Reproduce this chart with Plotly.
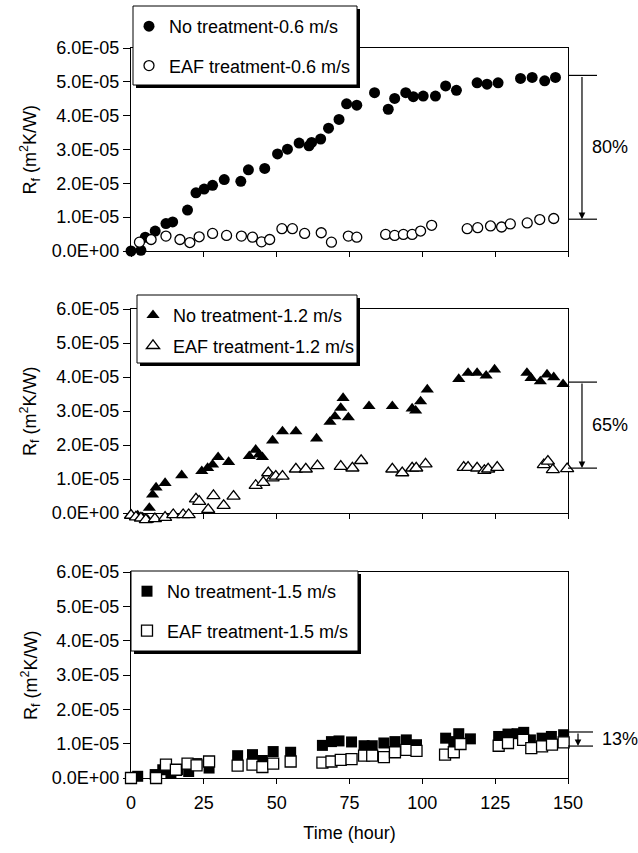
import plotly.graph_objects as go

SCALE = 1e-5  # values below are read in units of 1E-05 m2K/W

# ---- Top panel: 0.6 m/s ----
nt06_hours = [0, 3.4, 4.9, 8.3, 12, 14.3, 19.4, 22.3, 25.1, 28, 32, 37.7, 40.3, 45.9, 50.3, 53.7,
              57.7, 61.1, 62, 65.1, 67.8, 71.4, 74, 77.5, 83.6, 88.3, 90.5, 94.3, 96.9, 100.3,
              104.5, 108, 111.7, 118.8, 122.2, 126, 133.7, 137.7, 142, 145.7]
nt06_rf = [0.0, 0.02, 0.41, 0.59, 0.81, 0.86, 1.21, 1.72, 1.83, 1.94, 2.11, 2.06, 2.40, 2.44, 2.87,
           3.01, 3.19, 3.11, 3.21, 3.31, 3.63, 3.89, 4.35, 4.31, 4.68, 4.19, 4.51, 4.68, 4.56, 4.58,
           4.58, 4.88, 4.75, 4.97, 4.93, 4.97, 5.10, 5.13, 5.03, 5.13]
eaf06_hours = [2.9, 6.9, 12, 16.8, 20.2, 23.4, 28, 32.8, 37.9, 41.7, 44.8, 47.6, 51.8, 55.4, 59.6,
               65.3, 68.8, 74.6, 77.5, 87.4, 90.5, 93.5, 96.5, 99.4, 103.2, 115.4, 119, 123.4,
               127.2, 130.2, 136, 140.3, 145.1]
eaf06_rf = [0.26, 0.34, 0.44, 0.34, 0.25, 0.42, 0.52, 0.46, 0.44, 0.41, 0.27, 0.34, 0.66, 0.66, 0.52,
            0.54, 0.26, 0.44, 0.41, 0.49, 0.46, 0.49, 0.49, 0.59, 0.76, 0.66, 0.69, 0.74, 0.71,
            0.80, 0.83, 0.93, 0.96]

# ---- Middle panel: 1.2 m/s ----
nt12_hours = [0, 2.3, 4, 5.7, 6.3, 7.4, 8.6, 11.7, 17.4, 24.3, 26.3, 28, 29.9, 33.5, 40.6, 42.8, 44,
              45.1, 48.6, 52, 56.6, 63.7, 68.3, 70, 72, 72.8, 74.6, 81.7, 89.7, 96.5, 97.7, 99.4,
              101.7, 112.5, 115.7, 118.8, 121.9, 124.8, 135.9, 137.3, 140.5, 142.8, 145.1, 148.3]
nt12_rf = [-0.05, -0.07, -0.13, -0.2, 0.15, 0.54, 0.75, 0.88, 1.11, 1.23, 1.32, 1.42, 1.64, 1.50,
           1.67, 1.86, 1.72, 1.64, 2.13, 2.40, 2.40, 2.19, 2.68, 2.84, 3.09, 3.38, 2.81, 3.14, 3.14,
           3.07, 3.01, 3.28, 3.63, 3.94, 4.12, 4.12, 4.04, 4.22, 4.12, 3.97, 3.87, 4.07, 3.99, 3.79]
eaf12_hours = [0, 1.7, 3.4, 5.1, 8.2, 11.7, 14.5, 17.9, 19.8, 22.3, 23.4, 26.5, 28.3, 31.8, 35.2,
               42.8, 45.4, 47.1, 48.6, 49.7, 52, 56.6, 60, 64, 72, 76, 79, 89.7, 93.1, 96.5, 97.9,
               101.1, 114.2, 115.7, 118.8, 121.3, 122.6, 125.7, 141.7, 143.1, 144.8, 149.7]
eaf12_rf = [-0.07, -0.12, -0.15, -0.2, -0.17, -0.13, -0.05, -0.05, -0.05, 0.41, 0.34, 0.10, 0.51,
            0.22, 0.49, 0.81, 0.90, 1.18, 1.03, 1.08, 1.08, 1.29, 1.29, 1.39, 1.37, 1.32, 1.54,
            1.29, 1.18, 1.32, 1.32, 1.44, 1.34, 1.34, 1.32, 1.25, 1.29, 1.34, 1.42, 1.52, 1.27, 1.30]

# ---- Bottom panel: 1.5 m/s ----
nt15_hours = [0, 2.3, 8.3, 10.9, 13.7, 16, 19.8, 22.6, 26.8, 36.6, 41.7, 45.1, 48.8, 54.8, 65.7,
              68.8, 71.4, 75.7, 80, 82.8, 86.8, 90.6, 94.5, 98, 108, 110.8, 112.5, 116.5, 126.2,
              129.4, 132.5, 134.8, 137.1, 141.1, 144.3, 148.5]
nt15_rf = [0.0, 0.05, 0.10, 0.24, 0.15, 0.24, 0.19, 0.42, 0.29, 0.65, 0.68, 0.51, 0.77, 0.75, 0.95,
           1.06, 1.08, 1.05, 0.94, 0.94, 1.02, 1.06, 1.11, 0.97, 1.16, 1.06, 1.29, 1.14, 1.21,
           1.28, 1.29, 1.33, 1.11, 1.16, 1.21, 1.26]
eaf15_hours = [0, 8.6, 12, 15.4, 19.4, 22.5, 26.8, 36.6, 41.7, 45.1, 48.8, 54.8, 65.7, 68.8, 72,
               75.7, 80, 82.8, 86.8, 90.6, 94.5, 98, 107.8, 110.8, 113.1, 126.2, 129.4, 134.6,
               137.4, 141.1, 144.5, 148.5]
eaf15_rf = [0.0, 0.0, 0.39, 0.24, 0.42, 0.37, 0.48, 0.36, 0.39, 0.32, 0.42, 0.48, 0.45, 0.48, 0.53,
            0.55, 0.65, 0.65, 0.61, 0.75, 0.82, 0.79, 0.68, 0.75, 0.99, 0.94, 1.02, 1.11, 0.87,
            0.92, 0.97, 1.04]

# reduction brackets (upper level, lower level, label)
reduction_06 = [5.19, 0.94, "80%"]
reduction_12 = [3.85, 1.32, "65%"]
reduction_15 = [1.34, 0.93, "13%"]

x_ticks = [0, 25, 50, 75, 100, 125, 150]
y_ticks = [0, 1, 2, 3, 4, 5, 6]
y_ticktext = ["0.0E+00", "1.0E-05", "2.0E-05", "3.0E-05", "4.0E-05", "5.0E-05", "6.0E-05"]

legend_names = {
    "06": ["No treatment-0.6 m/s", "EAF treatment-0.6 m/s"],
    "12": ["No treatment-1.2 m/s", "EAF treatment-1.2 m/s"],
    "15": ["No treatment-1.5 m/s", "EAF treatment-1.5 m/s"],
}

FONT = "Arial, Liberation Sans, sans-serif"
W, H = 638, 853
ML, MR, MT, MB = 131, 70, 40, 55
PW, PH = W - ML - MR, H - MT - MB
YMAX = 6 * SCALE


def py(ypx):
    return (H - MB - ypx) / PH


def px(xpx):
    return (xpx - ML) / PW


def sc(vals):
    return [v * SCALE for v in vals]


# panel pixel extents (top, bottom) of the visible axes
panel_px = {"y3": (48, 251), "y2": (309, 513), "y": (572, 778)}
# hidden "data" y axes extend a few px below zero so points dipping below 0 stay visible
EXT = 12
data_axis = {"y3": "y4", "y2": "y5", "y": "y6"}

fig = go.Figure()

panels = [
    ("06", "x3", "y3", "legend3", "circle", 11, 10,
     nt06_hours, nt06_rf, eaf06_hours, eaf06_rf),
    ("12", "x2", "y2", "legend2", "triangle-up", 11.5, 11.5,
     nt12_hours, nt12_rf, eaf12_hours, eaf12_rf),
    ("15", "x", "y", "legend", "square", 11, 11,
     nt15_hours, nt15_rf, eaf15_hours, eaf15_rf),
]

for key, xa, ya, lg, sym, s1, s2, h1, v1, h2, v2 in panels:
    dy = data_axis[ya]
    fig.add_trace(go.Scatter(
        x=h1, y=sc(v1), mode="markers", name=legend_names[key][0],
        xaxis=xa, yaxis=dy, legend=lg, legendgroup=key + "a", cliponaxis=False,
        marker=dict(symbol=sym, size=s1, color="black", line=dict(width=0)),
    ))
    fig.add_trace(go.Scatter(
        x=h2, y=sc(v2), mode="markers", name=legend_names[key][1],
        xaxis=xa, yaxis=dy, legend=lg, legendgroup=key + "b", cliponaxis=False,
        marker=dict(symbol=sym, size=s2, color="white", line=dict(width=1.3, color="black")),
    ))

axis_common = dict(showline=True, linecolor="black", linewidth=1.4, mirror=True,
                   showgrid=False, zeroline=False, ticks="outside", tickcolor="black",
                   automargin=False)

layout = dict(
    width=W, height=H, margin=dict(l=ML, r=MR, t=MT, b=MB, autoexpand=False),
    paper_bgcolor="white", plot_bgcolor="rgba(0,0,0,0)",
    font=dict(family=FONT, size=18, color="black"),
    showlegend=True,
)

annotations = []
for xa, ya in [("x", "y"), ("x2", "y2"), ("x3", "y3")]:
    xk = "xaxis" if xa == "x" else "xaxis" + xa[1:]
    yk = "yaxis" if ya == "y" else "yaxis" + ya[1:]
    top_px, bot_px = panel_px[ya]
    layout[xk] = dict(axis_common, range=[0, 150], tickvals=x_ticks, ticklen=5,
                      anchor=ya, domain=[0, 1], showticklabels=(xa == "x"),
                      ticklabelstandoff=3, tickfont=dict(size=18, family=FONT))
    layout[yk] = dict(axis_common, range=[0, YMAX], tickvals=sc(y_ticks),
                      ticktext=y_ticktext, ticklen=7, anchor=xa,
                      domain=[py(bot_px), py(top_px)], tickfont=dict(size=18, family=FONT))
    dy = data_axis[ya]
    dk = "yaxis" + dy[1:]
    ext_frac = EXT / (bot_px - top_px)
    layout[dk] = dict(visible=False, anchor=xa, domain=[py(bot_px + EXT), py(top_px)],
                      range=[-ext_frac * YMAX, YMAX], showgrid=False, zeroline=False)
    # y axis title (rotated)
    annotations.append(dict(
        xref="paper", yref="paper", x=px(30), y=py((top_px + bot_px) / 2),
        text="R<sub>f</sub> (m<sup>2</sup>K/W)", textangle=-90, showarrow=False,
        xanchor="center", yanchor="middle", font=dict(size=18, family=FONT)))

layout["xaxis"]["title"] = dict(text="Time (hour)", font=dict(size=18, family=FONT), standoff=14)

# legends (box positions in pixels: left, top, right, bottom, row spacing)
legend_boxes = {
    "legend3": (133, 6, 357, 85, 40),
    "legend2": (137, 295, 357, 363, 31),
    "legend": (131, 571, 358, 651, 40),
}
shapes = []
for lg, (l, t, r, b, gap) in legend_boxes.items():
    layout[lg] = dict(xref="container", yref="container", x=(l - 4) / W, y=1 - (t + 2) / H,
                      xanchor="left", yanchor="top", bgcolor="rgba(0,0,0,0)", borderwidth=0,
                      font=dict(size=18, family=FONT), tracegroupgap=gap - 27)
    shapes.append(dict(type="rect", xref="paper", yref="paper", layer="above",
                       x0=px(l + 3), x1=px(r + 3), y0=py(b + 3), y1=py(t + 3),
                       fillcolor="black", line=dict(width=0)))
    shapes.append(dict(type="rect", xref="paper", yref="paper", layer="above",
                       x0=px(l), x1=px(r), y0=py(b), y1=py(t),
                       fillcolor="white", line=dict(width=1, color="black")))

# reduction brackets on the right
brackets = [
    ("x3", "y3", reduction_06, 1.0, 1.0664, 1.032, 1.05),
    ("x2", "y2", reduction_12, 1.0, 1.0664, 1.032, 1.05),
    ("x", "y", reduction_15, 1.0, 1.0572, 1.0229, 1.0732),
]
for xa, ya, (top, bot, label), x0, x1, xarrow, xtext in brackets:
    for lvl in (top, bot):
        shapes.append(dict(type="line", xref=xa + " domain", yref=ya, layer="above",
                           x0=x0, x1=x1, y0=lvl * SCALE, y1=lvl * SCALE,
                           line=dict(width=1.2, color="black")))
    annotations.append(dict(
        xref=xa + " domain", yref=ya, x=xarrow, y=bot * SCALE, text="",
        showarrow=True, arrowhead=2, arrowsize=1.1, arrowwidth=1.2, arrowcolor="black",
        axref="pixel", ayref=ya, ax=0, ay=top * SCALE,
        standoff=0, startstandoff=0, font=dict(size=1)))
    annotations.append(dict(
        xref=xa + " domain", yref=ya, x=xtext, y=(top + bot) / 2 * SCALE, text=label,
        showarrow=False, xanchor="left", yanchor="middle", font=dict(size=18, family=FONT)))
layout["annotations"] = annotations
layout["shapes"] = shapes

fig.update_layout(layout)
fig.write_html("out.html")
